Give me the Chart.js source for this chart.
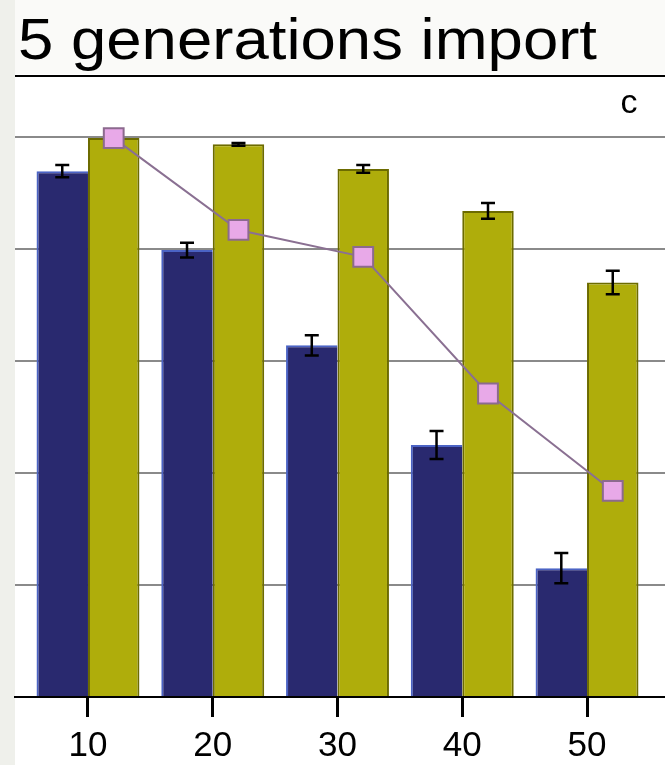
<!DOCTYPE html>
<html>
<head>
<meta charset="utf-8">
<script src="https://cdn.jsdelivr.net/npm/chart.js@4.4.1/dist/chart.umd.min.js"></script>
<style>
  html, body { margin: 0; padding: 0; background: #fff; }
  #wrap { width: 665px; height: 765px; }
</style>
</head>
<body>
<div id="wrap"><canvas id="myChart" width="665" height="765"></canvas></div>
<script>
// values (y in % of the top gridline)
const categories = [10, 20, 30, 40, 50];
const navyValues = [93.9, 79.8, 62.8, 45.0, 23.0];
const navyErrors = [1.1, 1.3, 1.8, 2.5, 2.7];
const oliveValues = [99.8, 98.7, 94.3, 86.8, 74.0];
const oliveErrors = [0, 0.25, 0.7, 1.4, 2.1];
const lineValues = [99.8, 83.4, 78.6, 54.2, 36.8];
const yTicks = [0, 20, 40, 60, 80, 100];

const titleText = '5 generations import';
const panelLabel = 'c';

const catPct = 0.825;
const errors = [null, navyErrors, oliveErrors];

const ctx = document.getElementById('myChart').getContext('2d');

// background, title and panel letter
const decor = {
    id: 'decor',
    beforeDraw(chart) {
        const c = chart.ctx;
        c.save();
        c.fillStyle = '#ffffff';
        c.fillRect(0, 0, chart.width, chart.height);
        c.fillStyle = '#eff0eb';
        c.fillRect(0, 0, 15, chart.height);
        c.fillStyle = '#fafaf8';
        c.fillRect(15, 0, chart.width - 15, 74);

        c.fillStyle = '#000';
        c.textBaseline = 'alphabetic';
        c.font = '58px "Liberation Sans", Arial, sans-serif';
        const w = c.measureText(titleText).width;
        c.save();
        c.translate(18, 59);
        c.scale(579 / w, 1);
        c.fillText(titleText, 0, 0);
        c.restore();

        c.fillRect(15, 75, chart.width - 15, 2);

        c.font = '34px "Liberation Sans", Arial, sans-serif';
        c.textAlign = 'center';
        c.fillText(panelLabel, 629, 113);
        c.restore();
    }
};

// error bars drawn right after each bar dataset
const errorBars = {
    id: 'errorBars',
    afterDatasetDraw(chart, args) {
        const errs = errors[args.index];
        if (!errs) return;
        const y = chart.scales.y;
        const c = chart.ctx;
        const vals = chart.data.datasets[args.index].data;
        c.save();
        c.strokeStyle = '#000';
        c.lineWidth = 2.5;
        args.meta.data.forEach((bar, i) => {
            if (!errs[i]) return;
            const v = vals[i].y;
            const top = y.getPixelForValue(v + errs[i]);
            const bot = y.getPixelForValue(v - errs[i]);
            c.beginPath();
            c.moveTo(bar.x, top); c.lineTo(bar.x, bot);
            c.moveTo(bar.x - 7, top); c.lineTo(bar.x + 7, top);
            c.moveTo(bar.x - 7, bot); c.lineTo(bar.x + 7, bot);
            c.stroke();
        });
        c.restore();
    }
};

const config = {
    type: 'bar',
    data: {
        datasets: [{
            type: 'line',
            label: 'line',
            data: categories.map((x, i) => ({ x: x + 10 * catPct / 4, y: lineValues[i] })),
            borderColor: '#8a7092',
            borderWidth: 2,
            pointStyle: 'rect',
            pointRadius: 14,
            pointBorderWidth: 2,
            pointBackgroundColor: '#e8a9e8',
            pointBorderColor: '#8c6a8e',
            clip: false,
            order: 0
        }, {
            label: 'navy',
            data: categories.map((x, i) => ({ x: x, y: navyValues[i] })),
            backgroundColor: '#29296f',
            borderColor: '#4b63c4',
            borderWidth: { left: 2, top: 2, right: 0, bottom: 0 },
            borderSkipped: false,
            categoryPercentage: catPct,
            barPercentage: 1,
            order: 1
        }, {
            label: 'olive',
            data: categories.map((x, i) => ({ x: x, y: oliveValues[i] })),
            backgroundColor: '#afad0b',
            borderColor: '#6c6b00',
            borderWidth: { left: 2, top: 2, right: 2, bottom: 0 },
            borderSkipped: false,
            categoryPercentage: catPct,
            barPercentage: 1,
            order: 1
        }]
    },
    options: {
        responsive: false,
        animation: false,
        layout: { autoPadding: false, padding: { top: 137, left: 15, right: 0, bottom: 0 } },
        plugins: {
            legend: { display: false },
            tooltip: { enabled: false }
        },
        scales: {
            x: {
                type: 'linear',
                offset: false,
                min: 4.15,
                max: 56.25,
                afterBuildTicks: s => { s.ticks = categories.map(v => ({ value: v })); },
                afterFit: s => { s.paddingLeft = 0; s.paddingRight = 0; s.height = 68; },
                grid: { offset: false, drawOnChartArea: false, drawTicks: true, tickLength: 20, color: '#000', lineWidth: 3 },
                border: { color: '#000', width: 2 },
                ticks: {
                    color: '#000',
                    padding: 12,
                    maxRotation: 0,
                    font: { family: '"Liberation Sans", Arial, sans-serif', size: 35, lineHeight: 1 },
                    callback: v => String(v)
                }
            },
            y: {
                min: 0,
                max: 100,
                afterBuildTicks: s => { s.ticks = yTicks.map(v => ({ value: v })); },
                afterFit: s => { s.width = 0; },
                ticks: { display: false },
                border: { display: false },
                grid: {
                    drawTicks: false,
                    lineWidth: 2,
                    color: c => c.tick && c.tick.value === 0 ? 'rgba(0,0,0,0)' : '#8a8a8a'
                }
            }
        }
    },
    plugins: [decor, errorBars]
};

const myChart = new Chart(ctx, config);
</script>
</body>
</html>
